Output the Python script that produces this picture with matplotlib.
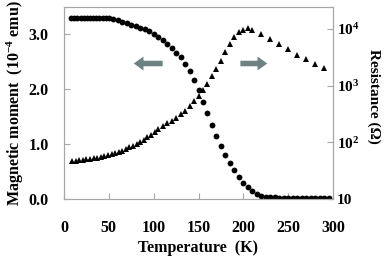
import matplotlib
matplotlib.use("Agg")
import matplotlib.pyplot as plt
from matplotlib.ticker import FixedLocator, NullLocator

plt.rcParams['font.family'] = ['Liberation Serif', 'DejaVu Serif']
plt.rcParams['font.weight'] = 'bold'
plt.rcParams['mathtext.fontset'] = 'custom'
plt.rcParams['mathtext.rm'] = 'Liberation Serif:bold'
plt.rcParams['mathtext.it'] = 'Liberation Serif:bold:italic'
plt.rcParams['mathtext.bf'] = 'Liberation Serif:bold'

# Magnetic moment data (10^-4 emu)
temp_m = [8, 11.5, 15, 18.5, 22, 25.5, 29, 32.5, 36, 39.5, 43, 46.5, 50,
          55, 60, 65, 70, 75, 80, 85, 90, 95, 100, 105, 110, 115, 120, 125,
          130, 135, 140, 145, 150, 155, 160, 165, 170, 175, 180, 185, 190,
          195, 200, 205, 210, 215, 220, 225, 230, 235, 240, 245, 250, 255,
          260, 265, 270, 275, 280, 285, 290, 295]
moment = [3.30, 3.30, 3.30, 3.30, 3.30, 3.30, 3.30, 3.30, 3.30, 3.30, 3.30, 3.30, 3.30,
          3.29, 3.26, 3.23, 3.20, 3.18, 3.15, 3.12, 3.09, 3.06, 3.01, 2.96, 2.90, 2.83,
          2.76, 2.67, 2.58, 2.46, 2.33, 2.17, 1.98, 1.77, 1.56, 1.35, 1.15, 0.96, 0.80,
          0.66, 0.53, 0.41, 0.30, 0.21, 0.145, 0.095, 0.06, 0.045, 0.035, 0.03, 0.027,
          0.025, 0.024, 0.023, 0.022, 0.022, 0.021, 0.021, 0.02, 0.02, 0.02, 0.02]

# Resistance data (Ohm)
temp_r = [9, 13, 17, 21, 25, 29, 33, 37, 41, 45, 49, 53, 57, 61, 65, 69, 73, 77,
          81, 85, 89, 93, 97, 101, 105, 110, 115, 120, 125, 130, 135, 140, 145,
          150, 155, 160, 165, 170, 175, 180, 185, 190, 195, 200, 205, 210, 220,
          230, 240, 250, 260, 270, 280, 290]
resistance = [46.8, 47.3, 47.9, 49.0, 50.1, 51.3, 52.5, 53.7, 55.0, 56.9, 58.9,
              61.7, 64.6, 67.6, 71.6, 75.9, 81.3, 87.1, 93.3, 102, 112, 123, 135,
              151, 170, 195, 219, 240, 269, 316, 363, 437, 537, 661, 832, 1072,
              1479, 1950, 2754, 3890, 5370, 7244, 8710, 9550, 10470, 9772, 8318,
              6761, 5370, 4467, 3548, 3020, 2455, 2089]

x_ticks = [0, 50, 100, 150, 200, 250, 300]
y_ticks = [0.0, 1.0, 2.0, 3.0]
y_ticklabels = ['0.0', '1.0', '2.0', '3.0']
r_ticks = [10, 100, 1000, 10000]
r_ticklabels = ['10', '$10^2$', '$10^3$', '$10^4$']

W, H = 391, 259
fig = plt.figure(figsize=(W / 100, H / 100), dpi=100)
ax = fig.add_axes([64 / W, 1 - 199 / H, (333 - 64) / W, (199 - 7) / H])
ax2 = ax.twinx()

spine_col = '#a6a6a6'
fs = 11.5

ax.plot(temp_m, moment, 'o', color='black', markersize=4.2, markeredgewidth=0)
ax2.plot(temp_r, resistance, '^', color='black', markersize=4.4, markeredgewidth=0)

ax.set_xlim(0, 300)
ax.set_ylim(0, 3.5)
ax2.set_yscale('log')
ax2.set_ylim(10, 24500)

ax.set_xticks(x_ticks)
ax.set_xticklabels([str(t) for t in x_ticks], fontsize=fs, fontweight='bold')
ax.set_yticks(y_ticks)
ax.set_yticklabels(y_ticklabels, fontsize=fs, fontweight='bold')
ax2.yaxis.set_major_locator(FixedLocator(r_ticks))
ax2.yaxis.set_minor_locator(NullLocator())
ax2.set_yticklabels(r_ticklabels, fontsize=11, fontweight='bold')

for a in (ax, ax2):
    for s in a.spines.values():
        s.set_color(spine_col)
        s.set_linewidth(0.8)
ax.tick_params(axis='x', direction='in', length=4, color=spine_col, pad=15)
ax.tick_params(axis='y', direction='in', length=4, color=spine_col, pad=11)
ax2.tick_params(axis='y', direction='in', length=4, color=spine_col, pad=3)

ax.set_xlabel('Temperature  (K)', fontsize=fs, fontweight='bold', labelpad=3)
ax.set_ylabel('Magnetic moment  (10$^{-4}$ emu)', fontsize=fs, fontweight='bold', labelpad=2)
fig.text(374 / W, 1 - 96 / H, 'Resistance (\u03a9)', fontsize=11, fontweight='bold',
         rotation=270, ha='center', va='center')

arrow_col = '#6e8282'
style = 'simple,head_length=0.7,head_width=1.0,tail_width=0.4'
ax.annotate('', xy=(77.8, 2.47), xytext=(110, 2.47),
            arrowprops=dict(arrowstyle=style, color=arrow_col, mutation_scale=10,
                            shrinkA=0, shrinkB=0, lw=0))
ax.annotate('', xy=(226.7, 2.47), xytext=(196.7, 2.47),
            arrowprops=dict(arrowstyle=style, color=arrow_col, mutation_scale=10,
                            shrinkA=0, shrinkB=0, lw=0))

fig.savefig('out.png', dpi=100)
